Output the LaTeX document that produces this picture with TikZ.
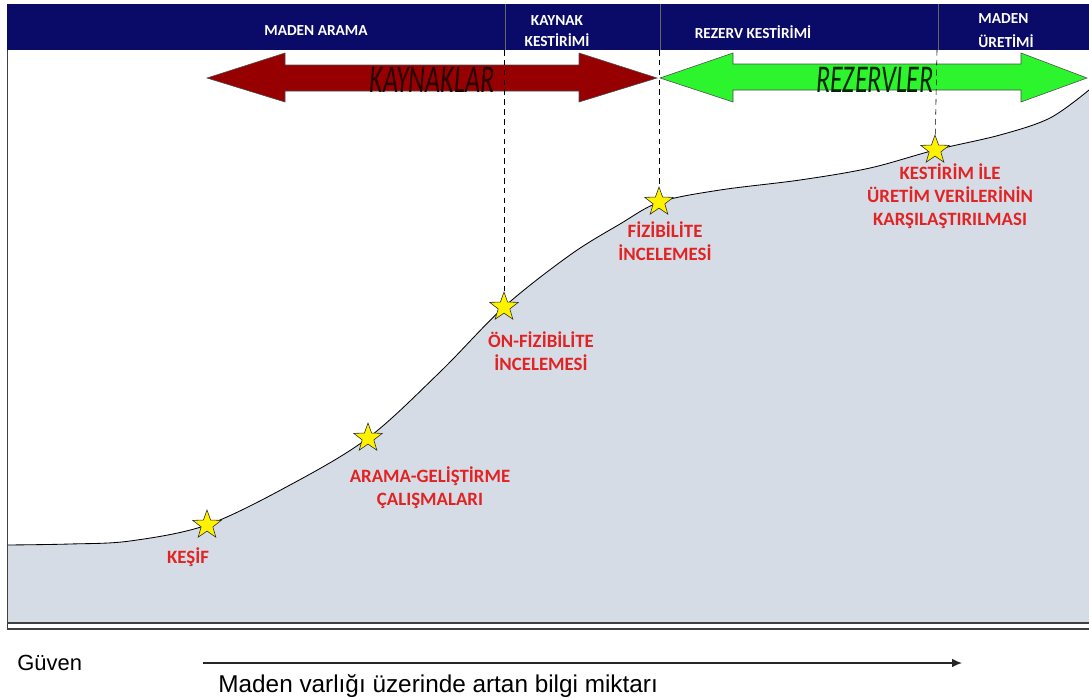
\documentclass[tikz,border=0pt]{standalone}
\usepackage{fontspec}
\setmainfont{Carlito}
\newfontfamily\arialfont{Liberation Sans}
\usetikzlibrary{arrows,arrows.meta,shapes.geometric}
\definecolor{barblue}{RGB}{10,10,105}
\definecolor{kaynakred}{RGB}{150,0,0}
\definecolor{rezervgreen}{RGB}{45,245,45}
\definecolor{areagray}{RGB}{214,220,229}
\definecolor{labelred}{RGB}{225,35,35}

\begin{document}
\begin{tikzpicture}[x=0.025cm,y=-0.025cm,semithick,>={Latex[length=7pt,width=6pt]}]
 \tikzstyle{every node}=[inner sep=0pt]
 \tikzstyle{baslik}=[text=white,font=\fontsize{10.9}{15}\selectfont\bfseries,align=center]
 \tikzstyle{yildiz}=[star,star points=5,star point ratio=2.45,fill=yellow,draw=black!85,thin,minimum size=0.75cm]
 \tikzstyle{etiket}=[text=labelred,font=\fontsize{13.4}{16.5}\selectfont\bfseries,align=center]
 \tikzstyle{okyazi}=[font=\fontsize{28}{28}\selectfont\itshape]
 \tikzstyle{kesik}=[thin,dash pattern=on 4pt off 3pt]

 \useasboundingbox (0,0) rectangle (1089,697);

 % ust bant
 \fill[barblue] (7,4) rectangle (1089,50);
 \draw[black!60,thin] (505,4) -- (505,50) (660,4) -- (660,50) (938,4) -- (938,50);
 \node[baslik] (arama) at (316,31) {MADEN ARAMA};
 \node[baslik] (kkest) at (557,31) {KAYNAK\\KESTİRİMİ};
 \node[baslik] (rkest) at (753,32) {REZERV KESTİRİMİ};
 \node[baslik,align=left,anchor=west,font=\fontsize{10.9}{17}\selectfont\bfseries] (uretim) at (978,31) {MADEN\\ÜRETİMİ};

 % egri ve alan
 \fill[areagray] plot[smooth,tension=0.55] coordinates {(7,545) (70,544) (130,541) (207,525) (290,485) (368,438) (440,372) (504,307) (570,255) (620,224) (660,202) (720,190) (800,180) (870,168) (935,150) (1000,135) (1050,118) (1089,90)} -- (1089,623) -- (7,623) -- cycle;
 \draw plot[smooth,tension=0.55] coordinates {(7,545) (70,544) (130,541) (207,525) (290,485) (368,438) (440,372) (504,307) (570,255) (620,224) (660,202) (720,190) (800,180) (870,168) (935,150) (1000,135) (1050,118) (1089,90)};
 \draw[black!75] (7,50) -- (7,629);
 \draw[line width=1.2pt,black!75] (7,623) -- (1089,623);
 \draw[line width=1.2pt,black!75] (7,629) -- (1089,629);

 % oklar
 \draw[fill=kaynakred,draw=black!70,thin] (207,78) -- (285,53) -- (285,65) -- (579,65) -- (579,53) -- (657,78)
   -- (579,102) -- (579,91) -- (285,91) -- (285,102) -- cycle;
 \draw[fill=rezervgreen,draw=black!70,thin] (660,78) -- (733,53) -- (733,64) -- (1021,64) -- (1021,53) -- (1087,78)
   -- (1021,102) -- (1021,90) -- (733,90) -- (733,102) -- cycle;
 \node[okyazi,text=black!85!red] (kaynaklar) at (432,80) {\scalebox{0.66}[1]{KAYNAKLAR}};
 \node[okyazi,text=black!85!green] (rezervler) at (875,80) {\scalebox{0.66}[1]{REZERVLER}};

 % yildizlar
 \node[yildiz] (kesif) at (207,525) {};
 \node[yildiz] (gelis) at (368,438) {};
 \node[yildiz] (onfiz) at (504,307) {};
 \node[yildiz] (fiz) at (659,202) {};
 \node[yildiz] (karsi) at (935,150) {};

 \coordinate (tonfiz) at (504,50);
 \coordinate (tfiz) at (659,50);
 \coordinate (tkarsi) at (937,50);
 \draw[kesik] (tonfiz) -- (onfiz);
 \draw[kesik] (tfiz) -- (fiz);
 \draw[kesik] (tkarsi) -- (karsi);

 \node[etiket] (lkesif) at (188,557) {KEŞİF};
 \node[etiket] (lgelis) at (430,488) {ARAMA-GELİŞTİRME\\ÇALIŞMALARI};
 \node[etiket] (lonfiz) at (541,351) {ÖN-FİZİBİLİTE\\İNCELEMESİ};
 \node[etiket] (lfiz) at (665,241) {FİZİBİLİTE\\İNCELEMESİ};
 \node[etiket] (lkarsi) at (950,196) {KESTİRİM İLE\\ÜRETİM VERİLERİNİN\\KARŞILAŞTIRILMASI};

 % alt eksen
 \node[anchor=west,font=\arialfont\fontsize{15.6}{18}\selectfont] (guven) at (17,663) {Güven};
 \coordinate (eksbas) at (203,663);
 \coordinate (eksson) at (962,663);
 \draw[->,line width=0.9pt,black!85] (eksbas) -- (eksson);
 \node[anchor=west,font=\arialfont\fontsize{17.3}{20}\selectfont] (miktar) at (218,686) {Maden varlığı üzerinde artan bilgi miktarı};
\end{tikzpicture}
\end{document}
